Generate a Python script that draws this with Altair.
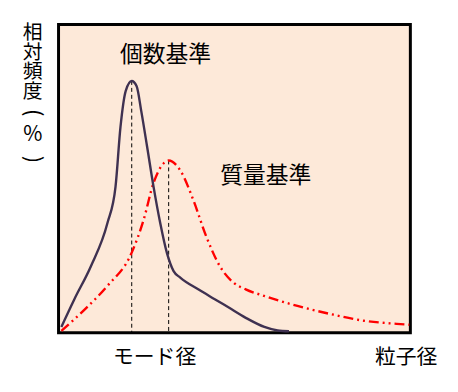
import altair as alt
import pandas as pd

# number-based distribution (個数基準)
num_x = [0.8, 4.5, 9.2, 13.9, 16.2, 17.6, 19.1, 20.8, 22.2, 23.5, 25.2, 27.0, 28.9, 30.8, 32.7, 34.6, 39.7, 44.4, 49.1, 53.8, 58.5, 62.3, 65.5]
num_y = [1.9, 10.9, 21.6, 35.6, 47.4, 66.7, 78.5, 81.7, 80.0, 72.0, 60.2, 47.4, 35.6, 25.9, 20.0, 17.9, 14.1, 10.9, 7.7, 4.5, 1.9, 0.75, 0.5]

# mass-based distribution (質量基準)
mass_x = [0.8, 8.2, 13.8, 20.8, 24.2, 27.0, 29.9, 31.3, 34.6, 38.3, 42.0, 45.9, 49.6, 53.2, 58.6, 67.9, 77.2, 86.8, 96.1, 99.7]
mass_y = [0.6, 8.4, 15.1, 26.0, 36.7, 48.6, 55.0, 55.9, 52.7, 43.1, 31.2, 21.5, 16.4, 14.1, 11.9, 8.7, 6.1, 3.9, 2.9, 2.6]

mode_x = [20.8, 31.3]
mode_top = [81.7, 55.9]

label_text = ["個数基準", "質量基準"]
label_x = [30.4, 58.9]
label_y = [90.0, 51.0]

tick_values = [27.3, 98.8]
tick_labels = ["モード径", "粒子径"]

ytitle_a = ["相", "対", "頻", "度"]
ytitle_open = "("
ytitle_pct = "%"
ytitle_close = ")"

FONT = "Noto Sans CJK JP"

xs = alt.Scale(domain=[0, 100], nice=False, zero=False)
ys = alt.Scale(domain=[0, 100], nice=False, zero=False)

num_df = pd.DataFrame({"x": num_x, "y": num_y})
mass_df = pd.DataFrame({"x": mass_x, "y": mass_y})
mode_df = pd.DataFrame({"x": mode_x, "top": mode_top, "bottom": [0, 0]})
lab_df = pd.DataFrame({"t": label_text, "x": label_x, "y": label_y})
tick_df = pd.DataFrame({"t": tick_labels, "x": tick_values})
one = pd.DataFrame({"a": [0]})

rules = alt.Chart(mode_df).mark_rule(color="black", strokeWidth=1, strokeDash=[4, 3]).encode(
    x=alt.X("x:Q", scale=xs, axis=None),
    y=alt.Y("top:Q", scale=ys, axis=None),
    y2="bottom:Q",
)

num_line = alt.Chart(num_df).mark_line(color="#3F3151", strokeWidth=2.4, interpolate="monotone").encode(
    x=alt.X("x:Q", scale=xs, axis=None),
    y=alt.Y("y:Q", scale=ys, axis=None),
    order="x:Q",
)

mass_line = alt.Chart(mass_df).mark_line(color="#FF0000", strokeWidth=2.4, interpolate="monotone",
                                          strokeDash=[10, 4, 2, 4, 2, 4]).encode(
    x=alt.X("x:Q", scale=xs, axis=None),
    y=alt.Y("y:Q", scale=ys, axis=None),
    order="x:Q",
)

labels = alt.Chart(lab_df).mark_text(font=FONT, fontSize=23, color="black", align="center", baseline="middle").encode(
    x=alt.X("x:Q", scale=xs, axis=None),
    y=alt.Y("y:Q", scale=ys, axis=None),
    text="t:N",
)

ticks = alt.Chart(tick_df).mark_text(font=FONT, fontSize=21, color="black", align="center", baseline="middle").encode(
    x=alt.X("x:Q", scale=xs, axis=None),
    y=alt.value(337),
    text="t:N",
)

ytit_a = alt.Chart(one).mark_text(
    font=FONT, fontSize=20, color="black", align="center", baseline="top",
    lineHeight=19.6, text=ytitle_a,
).encode(x=alt.value(-26), y=alt.value(-1))

ytit_open = alt.Chart(one).mark_text(
    font=FONT, fontSize=22, color="black", align="center", baseline="middle", angle=90, text=ytitle_open,
).encode(x=alt.value(-26), y=alt.value(89))

ytit_pct = alt.Chart(one).mark_text(
    font=FONT, fontSize=21, color="black", align="center", baseline="middle", text=ytitle_pct,
).encode(x=alt.value(-26), y=alt.value(112))

ytit_close = alt.Chart(one).mark_text(
    font=FONT, fontSize=22, color="black", align="center", baseline="middle", angle=90, text=ytitle_close,
).encode(x=alt.value(-26), y=alt.value(136))

chart = alt.layer(rules, mass_line, num_line, labels, ticks, ytit_a, ytit_open, ytit_pct, ytit_close).properties(
    width=355, height=311,
    autosize=alt.AutoSizeParams(type="none"),
    padding={"left": 51, "top": 15, "right": 40, "bottom": 50},
).configure_view(
    fill="#FDE9D9", stroke="black", strokeWidth=3,
)

chart.save("out.html", embed_options={"renderer": "svg", "actions": False})
